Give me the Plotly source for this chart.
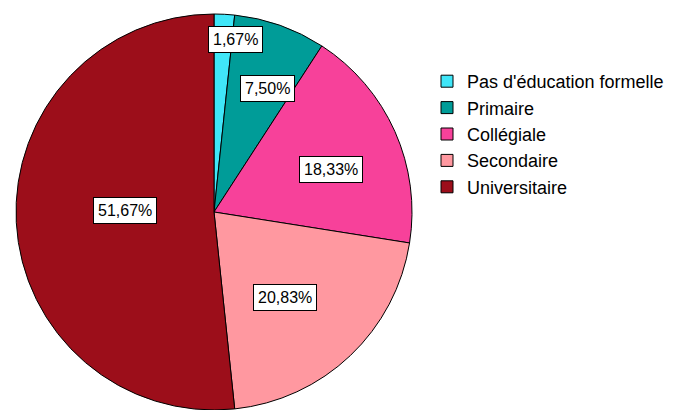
import math
import plotly.graph_objects as go

# Data
categories = ["Pas d'éducation formelle", "Primaire", "Collégiale", "Secondaire", "Universitaire"]
counts = [2, 9, 22, 25, 62]
colors = ["#40e6f8", "#009c98", "#f7419a", "#ff98a0", "#9c0e1a"]

# Style / placement of the boxed percentage labels (fraction of radius)
label_radius = [0.88, 0.68, 0.63, 0.56, 0.45]
label_angle_offset = 4.0  # degrees

W, H = 695, 410
cx, cy, R = 214, 212, 198

fig = go.Figure(go.Pie(
    labels=categories,
    values=counts,
    sort=False,
    direction="clockwise",
    rotation=0,
    marker=dict(colors=colors, line=dict(color="black", width=1)),
    textinfo="none",
    hoverinfo="label+percent",
    domain=dict(x=[(cx - R) / W, (cx + R) / W], y=[1 - (cy + R) / H, 1 - (cy - R) / H]),
))

total = sum(counts)
cum = 0
annotations = []
for i, v in enumerate(counts):
    frac = v / total
    mid = (cum + frac / 2) * 360 + label_angle_offset
    cum += frac
    a = math.radians(mid)
    r = label_radius[i] * R
    px = cx + r * math.sin(a)
    py = cy - r * math.cos(a)
    pct = f"{frac * 100:.2f}".replace(".", ",") + "%"
    annotations.append(dict(
        x=px / W, y=1 - py / H, xref="paper", yref="paper",
        text=pct, showarrow=False,
        font=dict(family="Liberation Sans, Arial", size=16, color="black"),
        bgcolor="white", bordercolor="black", borderwidth=1, borderpad=4,
        xanchor="center", yanchor="middle",
    ))

fig.update_layout(
    width=W, height=H,
    margin=dict(l=0, r=0, t=0, b=0),
    paper_bgcolor="white",
    plot_bgcolor="white",
    annotations=annotations,
    showlegend=True,
    legend=dict(
        x=427 / W, y=1 - 63 / H, xanchor="left", yanchor="top",
        font=dict(family="Liberation Sans, Arial", size=18, color="black"),
        bgcolor="rgba(0,0,0,0)",
        itemclick=False,
    ),
)

fig.write_html("out.html", config={"displayModeBar": False},
               post_script="document.body.style.margin='0';document.body.style.overflow='hidden';")
